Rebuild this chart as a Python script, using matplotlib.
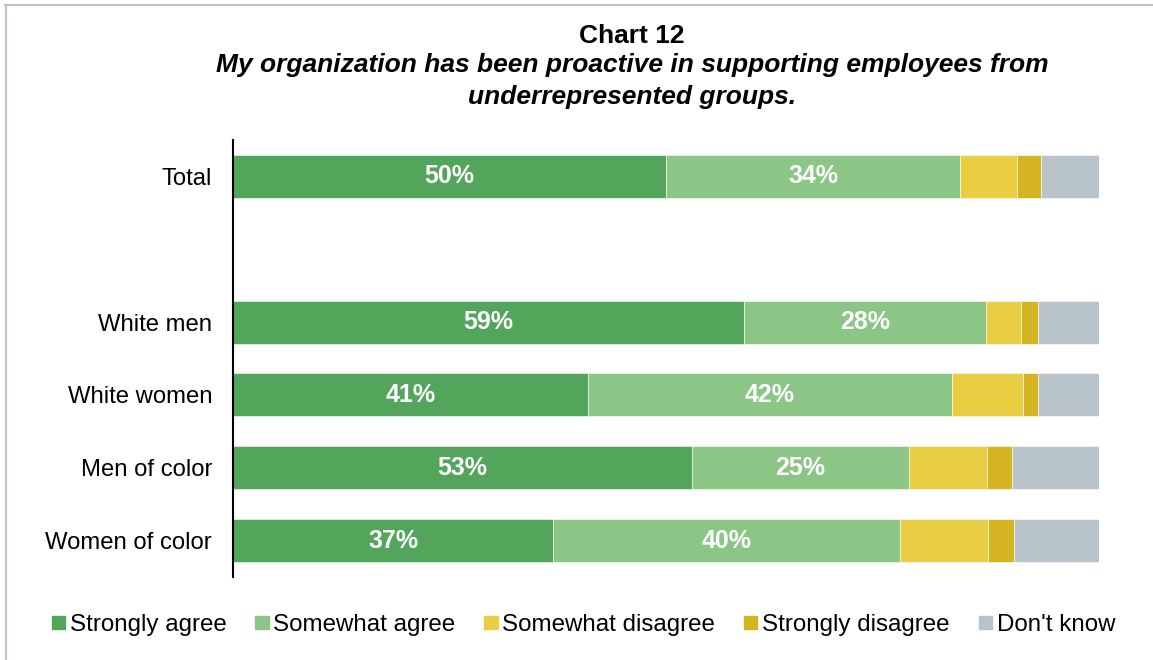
import matplotlib.pyplot as plt
from matplotlib.lines import Line2D

plt.rcParams["font.family"] = ["Liberation Sans", "DejaVu Sans"]

groups = ["Total", "", "White men", "White women", "Men of color", "Women of color"]
responses = ["Strongly agree", "Somewhat agree", "Somewhat disagree",
             "Strongly disagree", "Don't know"]
colors = ["#52a55a", "#8bc687", "#e9ce44", "#d4b420", "#b9c4ca"]

# share of respondents (%), one list per response; None = spacer row
strongly_agree = [50, None, 59, 41, 53, 37]
somewhat_agree = [34, None, 28, 42, 25, 40]
somewhat_disagree = [6.5, None, 4.0, 8.2, 9.1, 10.2]
strongly_disagree = [2.8, None, 1.9, 1.8, 2.9, 3.0]
dont_know = [6.7, None, 7.1, 7.0, 10.0, 9.8]

series = [strongly_agree, somewhat_agree, somewhat_disagree,
          strongly_disagree, dont_know]
labelled = [True, True, False, False, False]

fig = plt.figure(figsize=(11.53, 6.6), dpi=100)
ax = fig.add_axes([0.2021, 0.1258, 0.7511, 0.6621])

left = [0.0] * len(groups)
for vals, color, name, show in zip(series, colors, responses, labelled):
    for i, v in enumerate(vals):
        if v is None:
            continue
        ax.barh(i, v, left=left[i], height=0.59, color=color,
                edgecolor="white", linewidth=0.4)
        if show:
            ax.text(left[i] + v / 2, i, f"{v:.0f}%", ha="center", va="center",
                    color="white", fontsize=18, fontweight="bold")
        left[i] += v

ax.set_xlim(0, 100)
ax.set_ylim(5.5, -0.5)
ax.set_yticks(range(len(groups)))
ax.set_yticklabels(groups, fontsize=17.2)
ax.tick_params(axis="y", length=0, pad=15)
ax.set_xticks([])
for side in ["top", "right", "bottom"]:
    ax.spines[side].set_visible(False)
ax.spines["left"].set_linewidth(1.5)
ax.spines["left"].set_color("black")

fig.text(0.548, 1 - 36 / 660, "Chart 12", ha="center", va="center",
         fontsize=19, fontweight="bold")
fig.text(0.548, 1 - 65 / 660,
         "My organization has been proactive in supporting employees from",
         ha="center", va="center", fontsize=19, fontweight="bold", style="italic")
fig.text(0.548, 1 - 97 / 660, "underrepresented groups.",
         ha="center", va="center", fontsize=19, fontweight="bold", style="italic")

handles = [plt.Rectangle((0, 0), 1, 1, color=c) for c in colors]
fig.legend(handles, responses, loc="center", bbox_to_anchor=(0.506, 1 - 625 / 660),
           ncol=5, frameon=False, fontsize=17.4, handlelength=0.54,
           handleheight=0.46, handletextpad=0.2, columnspacing=1.2)

# light frame along the top and left edges
fig.add_artist(Line2D([5 / 1153, 1], [1 - 5 / 660, 1 - 5 / 660],
                      color="#bcc5cc", linewidth=1.5, transform=fig.transFigure))
fig.add_artist(Line2D([6 / 1153, 6 / 1153], [0, 1 - 5 / 660],
                      color="#bcc5cc", linewidth=1.5, transform=fig.transFigure))

fig.savefig("out.png", dpi=100)
